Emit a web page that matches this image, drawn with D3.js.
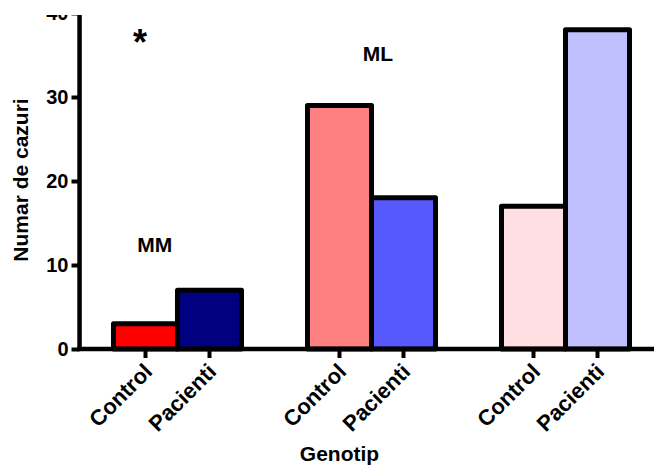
<!DOCTYPE html>
<html>
<head>
<meta charset="utf-8">
<script src="https://cdn.jsdelivr.net/npm/d3@7"></script>
<style>
  html, body { margin: 0; padding: 0; background: #fff; }
  svg text { font-family: "Liberation Sans", Arial, sans-serif; font-weight: bold; fill: #000; }
</style>
</head>
<body>
<svg id="chart" width="654" height="466"></svg>
<script>
// Genotype groups and the two cohorts within each group
const genotypes = ["MM", "ML", "LL"];
const cohorts = ["Control", "Pacienti"];
// Number of cases per genotype, one array per cohort
const controlCounts = [3, 29, 17];
const pacientiCounts = [7, 18, 38];
// Fill colours per genotype, per cohort
const controlColors = ["#ff0000", "#ff8080", "#ffdfe1"];
const pacientiColors = ["#000080", "#5858ff", "#c0c0ff"];
// Y axis ticks
const yTicks = [0, 10, 20, 30, 40];
// Group annotations (genotype, height on the count axis)
const groupLabels = ["MM", "ML"];
const groupLabelLevels = [11.6, 34.3];

const svg = d3.select("#chart");

svg.append("defs").append("clipPath").attr("id", "frame")
  .append("rect").attr("x", 0).attr("y", 15).attr("width", 654).attr("height", 451);

const root = svg.append("g").attr("clip-path", "url(#frame)");

const y = d3.scaleLinear().domain([0, 40]).range([349, 13]);

const x0 = d3.scaleBand().domain(genotypes)
  .range([113.5, 629.5]).paddingInner(66 / 194).paddingOuter(0);
const x1 = d3.scaleBand().domain(cohorts).range([0, x0.bandwidth()]);

const rows = genotypes.map((g, i) => ({
  genotype: g,
  values: [
    { cohort: "Control", value: controlCounts[i], color: controlColors[i] },
    { cohort: "Pacienti", value: pacientiCounts[i], color: pacientiColors[i] }
  ]
}));

// Bars
const groups = root.selectAll("g.group").data(rows).join("g")
  .attr("class", "group")
  .attr("transform", d => `translate(${x0(d.genotype)},0)`);

groups.selectAll("rect").data(d => d.values).join("rect")
  .attr("x", d => x1(d.cohort))
  .attr("y", d => y(d.value))
  .attr("width", x1.bandwidth())
  .attr("height", d => y(0) - y(d.value))
  .attr("fill", d => d.color)
  .attr("stroke", "#000")
  .attr("stroke-width", 5)
  .attr("stroke-linejoin", "round");

// Y axis
const yAxis = root.append("g").attr("transform", "translate(79.5,0)")
  .call(d3.axisLeft(y).tickValues(yTicks).tickFormat(d3.format("d"))
    .tickSize(8).tickSizeOuter(0).tickPadding(3));
yAxis.select(".domain").remove();
yAxis.selectAll(".tick line").attr("stroke-width", 4);
yAxis.selectAll(".tick text").attr("font-size", 20);
// thick vertical axis bar
root.append("rect")
  .attr("x", 77.3).attr("width", 4.5)
  .attr("y", y(40)).attr("height", y(0) - y(40) + 2)
  .attr("fill", "#000");

// X axis baseline
root.append("rect")
  .attr("x", 77).attr("width", 654 - 77)
  .attr("y", y(0) - 2.25).attr("height", 4.5)
  .attr("fill", "#000");

// X ticks and cohort labels, one axis per genotype group
genotypes.forEach(g => {
  const ax = root.append("g")
    .attr("transform", `translate(${x0(g)},${y(0)})`)
    .call(d3.axisBottom(x1).tickSize(9).tickSizeOuter(0));
  ax.select(".domain").remove();
  ax.selectAll(".tick line").attr("stroke-width", 4);
  ax.selectAll(".tick text")
    .attr("font-size", 22)
    .attr("text-anchor", "end")
    .attr("x", 0).attr("y", 0).attr("dy", 0)
    .attr("transform", "translate(8,24) rotate(-45)");
});

// Group annotations, placed next to the bars of their genotype
const labelShift = { MM: 41.2, ML: 70.5 };
root.selectAll("text.grp").data(groupLabels).join("text")
  .attr("class", "grp")
  .attr("x", d => x0(d) + labelShift[d])
  .attr("y", (d, i) => y(groupLabelLevels[i]))
  .attr("text-anchor", "middle")
  .attr("font-size", 21)
  .text(d => d);

// Significance marker
root.append("text")
  .attr("x", 140).attr("y", 55)
  .attr("text-anchor", "middle")
  .attr("font-size", 36)
  .text("*");

// Axis titles
root.append("text")
  .attr("x", 339.5).attr("y", 461)
  .attr("text-anchor", "middle")
  .attr("font-size", 21)
  .text("Genotip");

root.append("text")
  .attr("transform", "translate(28,180) rotate(-90)")
  .attr("text-anchor", "middle")
  .attr("font-size", 21)
  .text("Numar de cazuri");
</script>
</body>
</html>
